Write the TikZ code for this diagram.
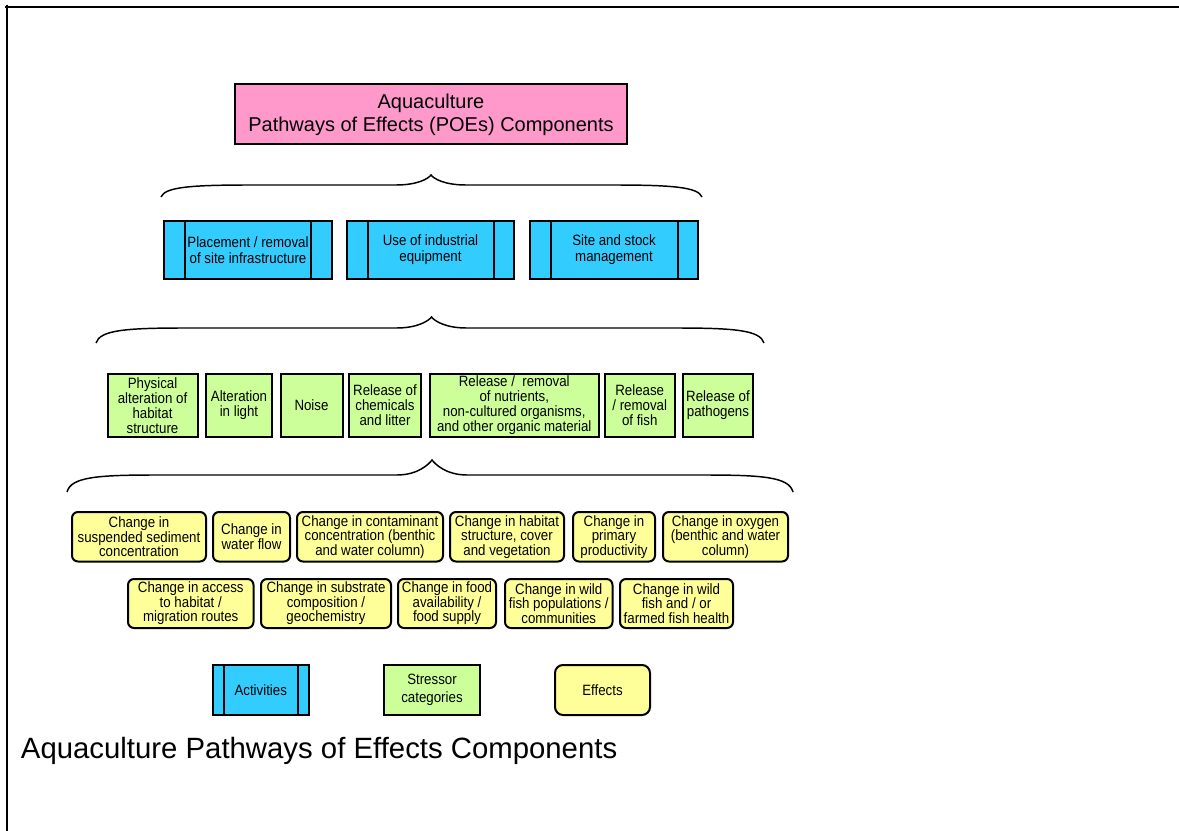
\documentclass[tikz,border=0pt]{standalone}
\usepackage{fontspec}
\setmainfont{Liberation Sans}
\newfontfamily\boxfont[FakeStretch=0.89]{Liberation Sans}
\newfontfamily\titlefont{Liberation Sans}
\definecolor{pinkc}{HTML}{FF99CC}
\definecolor{bluec}{HTML}{33CCFF}
\definecolor{greenc}{HTML}{CCFF99}
\definecolor{yellowc}{HTML}{FFFF99}
\newcommand\POEbrace[6]{% x0 x1 xc yend yflat ypeak
  \draw[bracestyle] (#1,#4) .. controls (#1+4,#5+2) and (#1+30,#5) .. (#1+90,#5)
   -- (#3-35,#5) .. controls (#3-14,#5) and (#3-3,#6+4) .. (#3,#6)
   .. controls (#3+3,#6+4) and (#3+14,#5) .. (#3+35,#5)
   -- (#2-90,#5) .. controls (#2-30,#5) and (#2-4,#5+2) .. (#2,#4);}
\begin{document}
\begin{tikzpicture}[x=0.75pt,y=-0.75pt,
  every node/.style={inner sep=0pt, outer sep=0pt, align=center, text=black},
  sz/.style 2 args={minimum width=#1*0.75pt, minimum height=#2*0.75pt},
  box/.style={draw=black, line width=1.5pt, font=\boxfont\fontsize{11.2}{11.25}\selectfont},
  titlebox/.style={draw=black, line width=1.5pt, fill=pinkc},
  titletext/.style={font=\titlefont\fontsize{15}{17}\selectfont},
  actbox/.style={box, fill=bluec, font=\boxfont\fontsize{11.2}{12}\selectfont, path picture={
     \draw[line width=1.5pt] ([xshift=#1*0.75pt]path picture bounding box.north west) -- ([xshift=#1*0.75pt]path picture bounding box.south west);
     \draw[line width=1.5pt] ([xshift=-#1*0.75pt]path picture bounding box.north east) -- ([xshift=-#1*0.75pt]path picture bounding box.south east);}},
  strbox/.style={box, fill=greenc},
  effbox/.style={box, fill=yellowc, rounded corners=4.5pt, font=\boxfont\fontsize{11.2}{10.8}\selectfont},
  legtext/.style={font=\boxfont\fontsize{11.2}{13.2}\selectfont},
  bracestyle/.style={line width=1.1pt, draw=black},
]
\useasboundingbox (0,0) rectangle (1179,831);
% frame
\draw[line width=1.9pt] (5,7) -- (1179,7);
\draw[line width=1.6pt] (7,5) -- (7,831);

% title
\node[titlebox, sz={392}{60}] (title) at (431,114) {};
\node[titletext] (titletxt) at (431,115) {Aquaculture\\Pathways of Effects (POEs) Components};

\POEbrace{161}{702}{431}{197}{185}{175}

% activities
\node[actbox=21, sz={168}{58}] (a1) at (248,250) {Placement / removal\\of site infrastructure};
\node[actbox=20.5, sz={167}{58}] (a2) at (430.5,250) {Use of industrial\\equipment};
\node[actbox=20.5, sz={168}{58}] (a3) at (614,250) {Site and stock\\management};

\POEbrace{96}{764}{431.5}{343}{328}{317}

% stressors
\node[strbox, sz={90}{63}] (g1) at (152.5,405.5) {Physical\\alteration of\\habitat\\structure};
\node[strbox, sz={66}{63}] (g2) at (239,405.5) {Alteration\\in light};
\node[strbox, sz={62}{63}] (g3) at (311.5,405.5) {Noise};
\node[strbox, sz={72}{63}] (g4) at (385,405.5) {Release of\\chemicals\\and litter};
\node[strbox, sz={168.5}{63}] (g5) at (514.25,405.5) {Release /\ \ removal\\of nutrients,\\non-cultured organisms,\\and other organic material};
\node[strbox, sz={70.5}{63}] (g6) at (639.75,405.5) {Release\\/ removal\\of fish};
\node[strbox, sz={70}{63}] (g7) at (718,405.5) {Release of\\pathogens};

\POEbrace{67}{793}{432}{492}{475}{460}

% effects row 1
\node[effbox, sz={134}{49.5}] (y1) at (139,536.75) {Change in\\suspended sediment\\concentration};
\node[effbox, sz={77}{49.5}] (y2) at (251.5,536.75) {Change in\\water flow};
\node[effbox, sz={146}{49.5}] (y3) at (370,536.75) {Change in contaminant\\concentration (benthic\\and water column)};
\node[effbox, sz={114}{49.5}] (y4) at (507,536.75) {Change in habitat\\structure, cover\\and vegetation};
\node[effbox, sz={82}{49.5}] (y5) at (614,536.75) {Change in\\primary\\productivity};
\node[effbox, sz={125}{49.5}] (y6) at (725.5,536.75) {Change in oxygen\\(benthic and water\\column)};
% effects row 2
\node[effbox, sz={125.5}{49}] (z1) at (190.75,603.5) {Change in access\\to habitat /\\migration routes};
\node[effbox, sz={130}{49}] (z2) at (326,603.5) {Change in substrate\\composition /\\geochemistry};
\node[effbox, sz={98}{49}] (z3) at (447,603.5) {Change in food\\availability /\\food supply};
\node[effbox, sz={107.5}{49}] (z4) at (558.75,603.5) {Change in wild\\fish populations /\\communities};
\node[effbox, sz={113}{49}] (z5) at (676.5,603.5) {Change in wild\\fish and / or\\farmed fish health};

% legend
\node[actbox=11, sz={95.5}{50}] (l1) at (260.75,690) {Activities};
\node[strbox, sz={96}{50}, legtext] (l2) at (432,690) {Stressor\\categories};
\node[effbox, sz={95}{50}, rounded corners=6pt] (l3) at (602.5,690) {Effects};

% caption
\node[anchor=base west, font=\fontsize{22}{26}\selectfont] (cap) at (21,758) {Aquaculture Pathways of Effects Components};
\end{tikzpicture}
\end{document}
